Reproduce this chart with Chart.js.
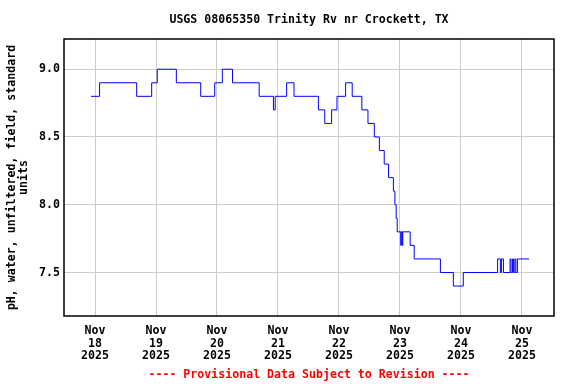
<!DOCTYPE html>
<html>
<head>
<meta charset="utf-8">
<script src="https://cdn.jsdelivr.net/npm/chart.js@4.4.1/dist/chart.umd.min.js"></script>
<style>
  html, body { margin: 0; padding: 0; background: #ffffff; }
  #wrap { width: 576px; height: 384px; position: relative; }
</style>
</head>
<body>
<div id="wrap"><canvas id="phChart" width="576" height="384"></canvas></div>
<script>
// hours since Nov 18 2025 00:00, and the pH reading that starts at that hour
const hours = [
    -1.6, 1.8, 16.4, 22.3, 24.5, 32.0, 41.6, 47.1, 50.1, 54.1,
    64.6, 70.2, 70.9, 75.4, 78.3, 87.9, 90.4, 93.1, 95.2, 98.6,
    101.2, 105.0, 107.4, 109.9, 111.9, 113.8, 115.5, 117.4, 118.0, 118.5,
    118.9, 120.3, 120.5, 120.9, 121.1, 124.0, 125.6, 135.9, 141.0, 144.9,
    158.4, 159.5, 159.9, 160.7, 163.3, 163.7, 164.3, 164.7, 165.2, 165.6,
    166.2, 170.8
];
const phValues = [
    8.8, 8.9, 8.8, 8.9, 9.0, 8.9, 8.8, 8.9, 9.0, 8.9,
    8.8, 8.7, 8.8, 8.9, 8.8, 8.7, 8.6, 8.7, 8.8, 8.9,
    8.8, 8.7, 8.6, 8.5, 8.4, 8.3, 8.2, 8.1, 8.0, 7.9,
    7.8, 7.7, 7.8, 7.7, 7.8, 7.7, 7.6, 7.5, 7.4, 7.5,
    7.6, 7.5, 7.6, 7.5, 7.6, 7.5, 7.6, 7.5, 7.6, 7.5,
    7.6, 7.6
];
const tickMonth = 'Nov';
const tickDays  = ['18', '19', '20', '21', '22', '23', '24', '25'];
const tickYear  = '2025';
const yTicks    = ['7.5', '8.0', '8.5', '9.0'];

const TITLE  = 'USGS 08065350 Trinity Rv nr Crockett, TX';
const FOOTER = '---- Provisional Data Subject to Revision ----';
const Y_TITLE = ['pH, water, unfiltered, field, standard', 'units'];

const FONT_FAMILY = '"DejaVu Sans Mono", monospace';
const LINE_COLOR  = '#0000ff';
const GRID_COLOR  = '#cccccc';

const points = hours.map((h, i) => ({ x: h, y: phValues[i] }));

const frame = {
    id: 'frame',
    afterDatasetsDraw(chart) {
        const { ctx, chartArea: a } = chart;
        ctx.save();
        ctx.strokeStyle = '#000000';
        ctx.lineWidth = 1.5;
        ctx.strokeRect(a.left, a.top, a.right - a.left, a.bottom - a.top);
        ctx.fillStyle = '#000000';
        ctx.font = 'bold 11.6px ' + FONT_FAMILY;
        ctx.textAlign = 'center';
        ctx.textBaseline = 'middle';
        ctx.fillText(TITLE, (a.left + a.right) / 2, 20);
        ctx.restore();
    }
};

new Chart(document.getElementById('phChart'), {
    type: 'line',
    data: {
        datasets: [{
            data: points,
            borderColor: LINE_COLOR,
            borderWidth: 1,
            stepped: 'before',
            pointRadius: 0,
            fill: false
        }]
    },
    options: {
        responsive: false,
        animation: false,
        layout: { padding: { top: 39, right: 22, left: 0, bottom: 0 } },
        plugins: {
            legend: { display: false },
            tooltip: { enabled: false },
            title: { display: false }
        },
        scales: {
            x: {
                type: 'linear',
                min: -12.2,
                max: 180.6,
                afterFit: s => { s.height = 68; },
                grid: { color: GRID_COLOR, drawTicks: false },
                border: { display: false },
                ticks: {
                    stepSize: 24,
                    includeBounds: false,
                    autoSkip: false,
                    maxRotation: 0,
                    padding: 8,
                    color: '#000000',
                    font: { family: FONT_FAMILY, size: 11.6, weight: 'bold', lineHeight: 1.12 },
                    callback: v => [tickMonth, tickDays[Math.round(v / 24)], tickYear]
                },
                title: {
                    display: true,
                    text: FOOTER,
                    color: '#ff0000',
                    padding: { top: 0, bottom: 2.5 },
                    font: { family: FONT_FAMILY, size: 11.6, weight: 'bold', lineHeight: 1.12 }
                }
            },
            y: {
                min: 7.179,
                max: 9.223,
                afterFit: s => { s.width = 64; },
                grid: { color: GRID_COLOR, drawTicks: false },
                border: { display: false },
                ticks: {
                    stepSize: 0.5,
                    includeBounds: false,
                    padding: 4,
                    color: '#000000',
                    font: { family: FONT_FAMILY, size: 11.6, weight: 'bold' },
                    callback: v => yTicks[Math.round((v - 7.5) / 0.5)]
                },
                title: {
                    display: true,
                    text: Y_TITLE,
                    color: '#000000',
                    padding: { top: 6, bottom: 0 },
                    font: { family: FONT_FAMILY, size: 11.6, weight: 'bold', lineHeight: 1.05 }
                }
            }
        }
    },
    plugins: [frame]
});
</script>
</body>
</html>
